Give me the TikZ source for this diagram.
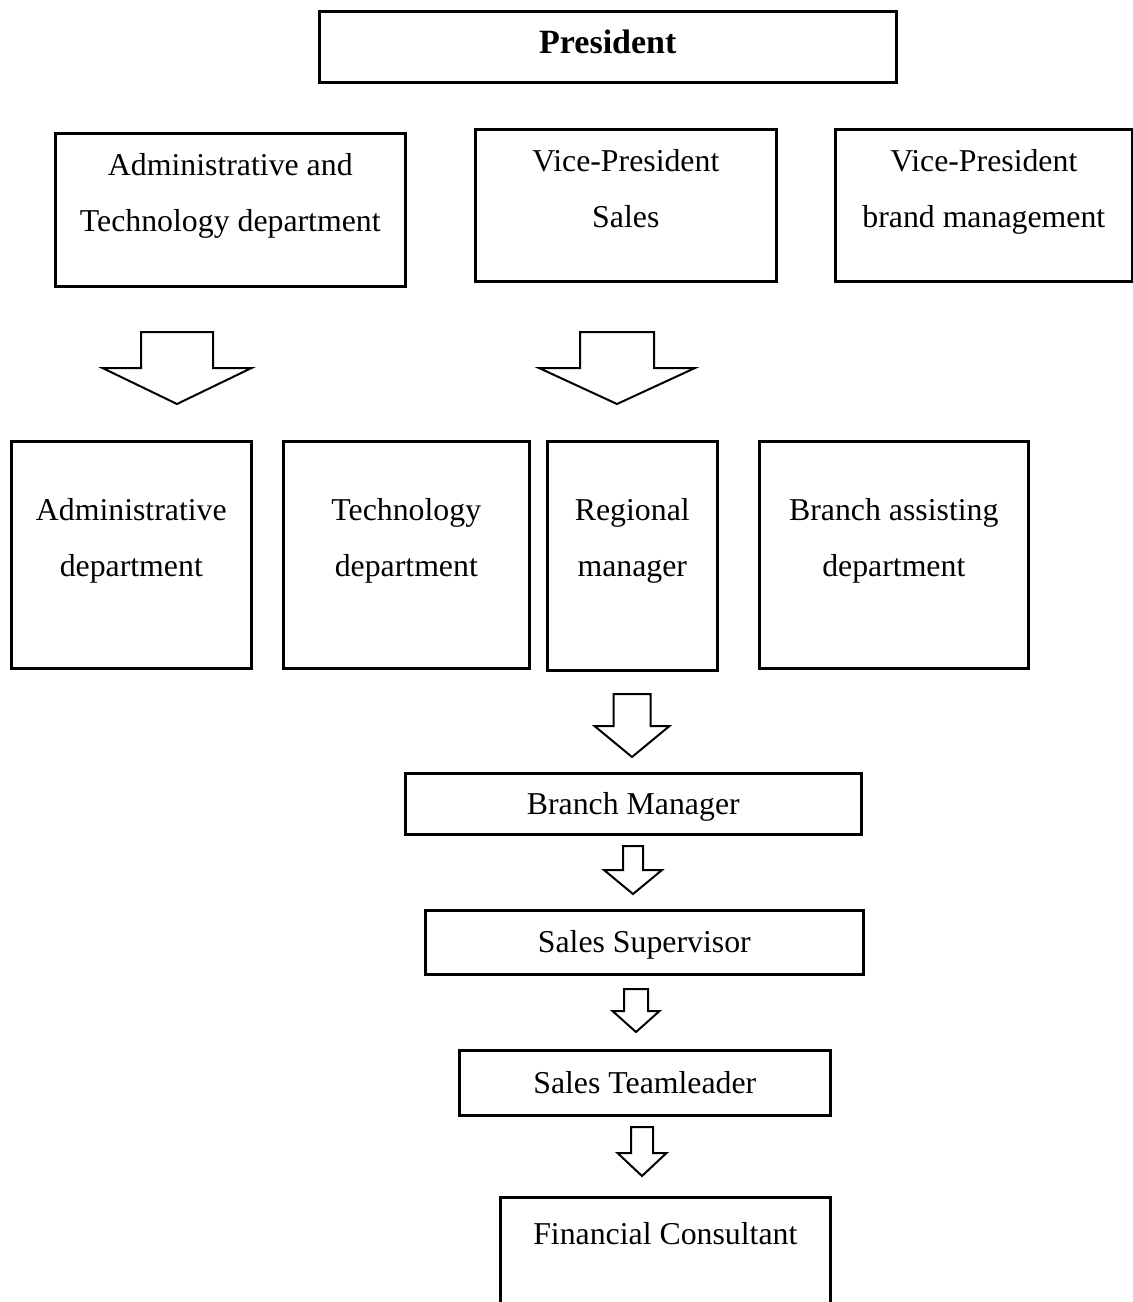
\documentclass[tikz,border=0pt]{standalone}
\usepackage{fontspec}
\setmainfont{Liberation Serif}
\usetikzlibrary{positioning}

\tikzset{
  % a plain frame, given its width and height in pixels of the scan
  box/.style 2 args={draw, line width=1.3pt, anchor=north west, inner sep=0pt,
    minimum width=#1*0.5pt, minimum height=#2*0.5pt},
  txt/.style={align=center, inner sep=0pt, font=\fontsize{15.9}{28}\selectfont},
  % one line of text, centred on its capitals
  oneline/.style={txt, text height=10.5pt, text depth=0pt},
  blockarrow/.style={draw, line width=1pt, line join=miter}
}

\begin{document}
\begin{tikzpicture}[x=0.5pt, y=-0.5pt]
% the page is as large as the scan, 1132 by 1302 pixels
\useasboundingbox (0,0) rectangle (1132,1302);
% top of the chart
\node[box={577}{71}, txt, font=\bfseries\fontsize{17}{20}\selectfont,
  text height=11.3pt, text depth=5pt] (pres) at (318,10) {President};
% the three departments under the president
\node[box={350}{153}] (admtech) at (54,132) {};
\node[txt, below=10.3pt of admtech.north] (admtecht) {Administrative and\\Technology department};
\node[box={301}{152}] (vpsales) at (474,128) {};
\node[txt, below=10.3pt of vpsales.north] (vpsalest) {Vice-President\\Sales};
\node[box={297}{152}] (vpbrand) at (834,128) {};
\node[txt, below=10.3pt of vpbrand.north] (vpbrandt) {Vice-President\\brand management};
% the row of tall boxes
\node[box={240}{227}] (adm) at (10,440) {};
\node[txt, below=29pt of adm.north] (admt) {Administrative\\department};
\node[box={246}{227}] (tech) at (282,440) {};
\node[txt, below=29pt of tech.north] (techt) {Technology\\department};
\node[box={170}{229}] (reg) at (546,440) {};
\node[txt, below=29pt of reg.north] (regt) {Regional\\manager};
\node[box={269}{227}] (assist) at (758,440) {};
\node[txt, below=29pt of assist.north] (assistt) {Branch assisting\\department};
% the sales line, one step below the other
\node[box={456}{61}, oneline] (brman) at (404,772) {Branch Manager};
\node[box={438}{64}, oneline] (supv) at (424,909) {Sales Supervisor};
\node[box={371}{65}, oneline] (teaml) at (458,1049) {Sales Teamleader};
% the last box runs off the bottom of the page
\node[box={330}{130}] (fincons) at (499,1196) {};
\node[txt, below=13.2pt of fincons.north] (fincont) {Financial Consultant};
% hollow block arrows: centre, top, shoulder, tip, half shaft, half head
\foreach \cx/\ya/\yb/\yc/\sw/\hw in {177/332/368/404/36/74.5, 617/332/368/404/37/78,
    632/694/726/757/18.5/37.5, 633/846/870/894/10/29,
    636/989/1011/1032/12/23.5, 642/1127/1153/1176/11/24.5}
  \draw[blockarrow] (\cx-\sw,\ya) -- (\cx+\sw,\ya) -- (\cx+\sw,\yb) -- (\cx+\hw,\yb)
    -- (\cx,\yc) -- (\cx-\hw,\yb) -- (\cx-\sw,\yb) -- cycle;
\end{tikzpicture}
\end{document}
